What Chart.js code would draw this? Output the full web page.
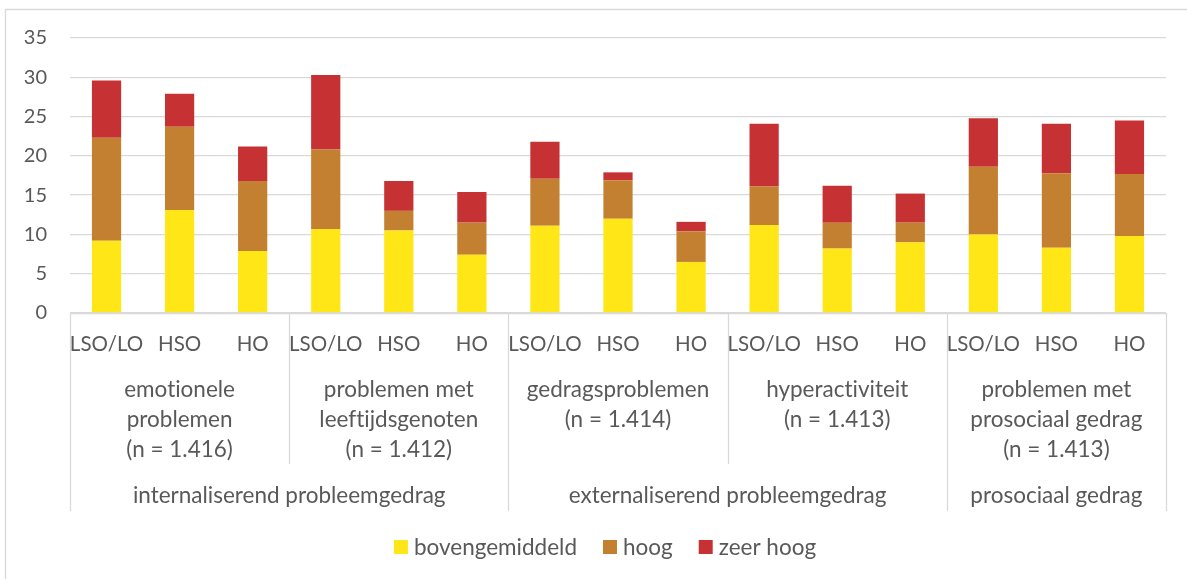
<!DOCTYPE html>
<html>
<head>
<meta charset="utf-8">
<script src="https://cdn.jsdelivr.net/npm/chart.js@4"></script>
<style>
  html, body { margin: 0; padding: 0; background: #ffffff; }
  #wrap { position: relative; width: 1187px; height: 579px; }
</style>
</head>
<body>
<div id="wrap"><canvas id="c" width="1187" height="579"></canvas></div>
<script>
// ---- data ----
const categories = ['LSO/LO','HSO','HO','LSO/LO','HSO','HO','LSO/LO','HSO','HO','LSO/LO','HSO','HO','LSO/LO','HSO','HO'];
const subgroupLabels = [
  ['emotionele', 'problemen', '(n = 1.416)'],
  ['problemen met', 'leeftijdsgenoten', '(n = 1.412)'],
  ['gedragsproblemen', '(n = 1.414)'],
  ['hyperactiviteit', '(n = 1.413)'],
  ['problemen met', 'prosociaal gedrag', '(n = 1.413)']
];
const subgroupSizes = [3, 3, 3, 3, 3];
const groupLabels = ['internaliserend probleemgedrag', 'externaliserend probleemgedrag', 'prosociaal gedrag'];
const groupSizes = [2, 2, 1]; // number of subgroups per group
const seriesNames = ['bovengemiddeld', 'hoog', 'zeer hoog'];
const bovengemiddeld = [9.2, 13.1, 7.9, 10.7, 10.5, 7.4, 11.1, 12.0, 6.5, 11.2, 8.2, 9.0, 10.0, 8.3, 9.8];
const hoog =           [13.1, 10.6, 8.9, 10.1, 2.5, 4.1, 6.0, 4.9, 3.9, 4.9, 3.3, 2.5, 8.6, 9.5, 7.9];
const zeerHoog =       [7.3, 4.2, 4.4, 9.5, 3.8, 3.9, 4.7, 1.0, 1.2, 8.0, 4.7, 3.7, 6.2, 6.3, 6.8];
const yTicks = [0, 5, 10, 15, 20, 25, 30, 35];

const colors = ['#FFE616', '#C48031', '#C63233'];
const textColor = '#595959';
const lineColor = '#D9D9D9';
const FONT = 'Lato, "Open Sans", sans-serif';

const axisPlugin = {
  id: 'multiAxis',
  beforeDraw(chart) {
    const ctx = chart.ctx;
    ctx.save();
    ctx.strokeStyle = lineColor;
    ctx.lineWidth = 1.3;
    ctx.beginPath();
    ctx.moveTo(5.5, 579); ctx.lineTo(5.5, 9.5); ctx.lineTo(1187, 9.5);
    ctx.stroke();
    ctx.restore();
  },
  afterDatasetsDraw(chart) {
    const ctx = chart.ctx;
    const x = chart.scales.x;
    const area = chart.chartArea;
    const base = area.bottom;
    const n = categories.length;
    const boundary = i => {
      if (i <= 0) return area.left;
      if (i >= n) return area.right;
      return (x.getPixelForValue(i - 1) + x.getPixelForValue(i)) / 2;
    };
    ctx.save();
    try { ctx.textRendering = 'optimizeSpeed'; } catch (e) {}
    ctx.strokeStyle = lineColor;
    ctx.lineWidth = 1.3;
    // axis line
    ctx.beginPath();
    ctx.moveTo(area.left, base + 0.5); ctx.lineTo(area.right, base + 0.5);
    ctx.stroke();

    const subStarts = [];
    let catIdx = 0;
    for (let s = 0; s < subgroupSizes.length; s++) { subStarts.push(catIdx); catIdx += subgroupSizes[s]; }
    subStarts.push(catIdx);
    let gs = 0;
    const groupStarts = [];
    for (let g = 0; g < groupSizes.length; g++) { groupStarts.push(subStarts[gs]); gs += groupSizes[g]; }
    groupStarts.push(subStarts[gs]);
    const groupBounds = new Set(groupStarts);

    subStarts.forEach(i => {
      const px = Math.round(boundary(i)) + 0.5;
      const long = groupBounds.has(i);
      ctx.beginPath();
      ctx.moveTo(px, base);
      ctx.lineTo(px, long ? 511 : 464);
      ctx.stroke();
    });

    ctx.fillStyle = textColor;
    ctx.textAlign = 'center';
    ctx.textBaseline = 'middle';
    // level 1
    ctx.font = '20.5px ' + FONT;
    categories.forEach((c, i) => {
      ctx.fillText(c, x.getPixelForValue(i), 344);
    });
    // level 2
    ctx.font = '22.5px ' + FONT;
    subgroupLabels.forEach((lines, s) => {
      const cx = (boundary(subStarts[s]) + boundary(subStarts[s + 1])) / 2;
      lines.forEach((t, k) => ctx.fillText(t, cx, 390 + k * 30));
    });
    // level 3
    groupLabels.forEach((t, g) => {
      const cx = (boundary(groupStarts[g]) + boundary(groupStarts[g + 1])) / 2;
      ctx.fillText(t, cx, 496);
    });

    // legend
    ctx.textAlign = 'left';
    const box = 14, gapBox = 6, gapItem = 26;
    const widths = seriesNames.map(t => ctx.measureText(t).width);
    const total = widths.reduce((a, w) => a + box + gapBox + w, 0) + gapItem * (seriesNames.length - 1);
    let lx = 605 - total / 2;
    const ly = 547;
    seriesNames.forEach((t, i) => {
      ctx.fillStyle = colors[i];
      ctx.fillRect(lx, ly - box / 2, box, box);
      ctx.fillStyle = textColor;
      ctx.fillText(t, lx + box + gapBox, ly + 1);
      lx += box + gapBox + widths[i] + gapItem;
    });
    ctx.restore();
  }
};

new Chart(document.getElementById('c'), {
  type: 'bar',
  data: {
    labels: categories,
    datasets: [
      { label: seriesNames[0], data: bovengemiddeld, backgroundColor: colors[0] },
      { label: seriesNames[1], data: hoog, backgroundColor: colors[1] },
      { label: seriesNames[2], data: zeerHoog, backgroundColor: colors[2] }
    ]
  },
  options: {
    responsive: false,
    animation: false,
    devicePixelRatio: 1,
    layout: { padding: { left: 0, right: 21, top: 38, bottom: 266 } },
    datasets: { bar: { barPercentage: 0.4, categoryPercentage: 1.0 } },
    plugins: { legend: { display: false }, tooltip: { enabled: false } },
    scales: {
      x: {
        stacked: true,
        grid: { display: false },
        border: { display: false },
        ticks: { display: false },
        afterFit(s) { s.height = 0; }
      },
      y: {
        stacked: true,
        min: 0,
        max: 35,
        afterBuildTicks(s) { s.ticks = yTicks.map(v => ({ value: v })); },
        grid: { color: lineColor, lineWidth: 1.3, drawTicks: false },
        border: { display: false },
        ticks: { color: textColor, font: { family: FONT, size: 20 }, padding: 23 },
        afterFit(s) { s.width = 70; }
      }
    }
  },
  plugins: [axisPlugin]
});
</script>
</body>
</html>
